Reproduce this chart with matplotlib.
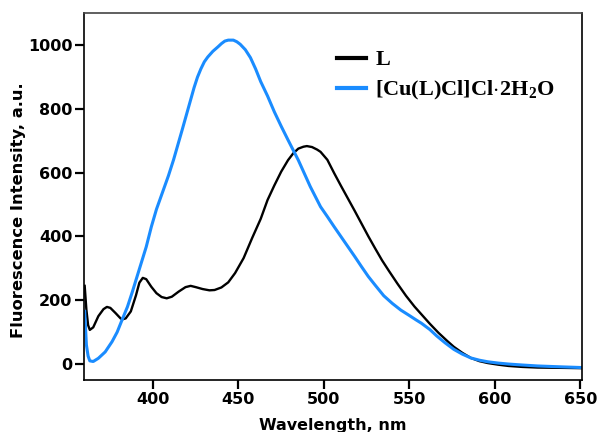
import matplotlib
matplotlib.use("Agg")
import matplotlib.pyplot as plt

plt.rcParams['mathtext.fontset'] = 'custom'
plt.rcParams['mathtext.rm'] = 'Liberation Serif:bold'
plt.rcParams['mathtext.bf'] = 'Liberation Serif:bold'
plt.rcParams['mathtext.it'] = 'Liberation Serif:italic'

# Ligand L emission spectrum
wl_L = [360, 361, 362, 363, 365, 368, 371, 373, 375, 378, 381, 382, 384, 387, 390, 392,
        394, 396, 399, 402, 405, 408, 411, 415, 419, 422, 425, 429, 433, 436, 440, 444,
        448, 453, 458, 463, 467, 471, 475, 479, 482, 485, 488, 490, 493, 496, 498, 502,
        506, 510, 514, 518, 522, 526, 530, 534, 538, 543, 548, 553, 557, 562, 567, 572,
        576, 581, 586, 591, 596, 602, 608, 616, 625, 640, 651]
int_L = [245, 170, 122, 107, 115, 150, 172, 179, 176, 160, 143, 140, 143, 165, 215, 255,
         270, 266, 242, 222, 210, 206, 211, 227, 241, 245, 241, 235, 231, 232, 240, 256,
         285, 332, 395, 455, 514, 560, 603, 639, 660, 675, 681, 683, 680, 672, 665, 640,
         598, 558, 519, 480, 440, 400, 362, 325, 292, 252, 214, 180, 156, 126, 98, 73,
         54, 35, 19, 9, 3, -2, -6, -9, -11, -12, -13]

# Complex [Cu(L)Cl]Cl·2H2O emission spectrum
wl_Cu = [360, 361, 362, 363, 365, 368, 372, 376, 379, 382, 385, 388, 390, 393, 396, 399,
         402, 406, 409, 412, 417, 422, 424, 426, 428, 430, 432, 435, 438, 440, 442, 444,
         447, 449, 451, 454, 457, 460, 463, 467, 471, 475, 479, 485, 492, 498, 502, 506,
         510, 514, 518, 522, 526, 530, 535, 540, 545, 550, 554, 557, 562, 566, 571, 576,
         581, 586, 591, 596, 602, 608, 616, 625, 640, 651]
int_Cu = [165, 60, 25, 10, 8, 18, 38, 70, 100, 140, 179, 228, 263, 315, 367, 430,
          485, 545, 590, 640, 733, 828, 866, 899, 925, 947, 962, 980, 994, 1004, 1012, 1015,
          1015, 1010, 1002, 985, 960, 925, 885, 840, 790, 745, 702, 639, 556, 493, 462, 430,
          399, 368, 337, 305, 274, 247, 214, 190, 169, 152, 138, 128, 108, 88, 66, 46,
          31, 19, 12, 7, 3, 0, -3, -6, -9, -11]

xticks = [400, 450, 500, 550, 600, 650]
yticks = [0, 200, 400, 600, 800, 1000]

fig = plt.figure(figsize=(6, 4.32), dpi=100)
ax = fig.add_axes([84/600, 1-380/432, (582-84)/600, (380-13)/432])

ax.plot(wl_L, int_L, color='black', lw=1.7, label=r'$\mathbf{L}$')
ax.plot(wl_Cu, int_Cu, color='#1a8cff', lw=2.2,
        label=r'$\mathrm{[Cu(}\mathbf{L}\mathrm{)Cl]Cl\!\cdot\!2H_2O}$')

ax.set_xlim(359.6, 651)
ax.set_ylim(-50, 1100)
ax.set_xticks(xticks)
ax.set_yticks(yticks)
ax.tick_params(direction='out', length=6.5, width=1.6, labelsize=11.5, pad=2)
for lab in ax.get_xticklabels() + ax.get_yticklabels():
    lab.set_fontweight('bold')
for s in ['left', 'bottom', 'right']:
    ax.spines[s].set_linewidth(1.2)
ax.spines['top'].set_color('#444444')
ax.spines['top'].set_linewidth(1.2)

ax.set_xlabel('Wavelength, nm', fontsize=11.5, fontweight='bold')
ax.xaxis.set_label_coords(0.5, -0.125)
ax.xaxis.label.set_verticalalignment('center')
ax.set_ylabel('Fluorescence Intensity, a.u.', fontsize=11.8, fontweight='bold')
ax.yaxis.set_label_coords((18 - 84) / 498, 0.463)
ax.yaxis.label.set_verticalalignment('center')

leg = ax.legend(loc='upper left', bbox_to_anchor=(0.49, 0.925), frameon=False,
                fontsize=16, handlelength=1.3, handletextpad=0.4, labelspacing=0.45,
                borderaxespad=0.0)
for line in leg.get_lines():
    line.set_linewidth(3)

fig.savefig('out.png', dpi=100)
